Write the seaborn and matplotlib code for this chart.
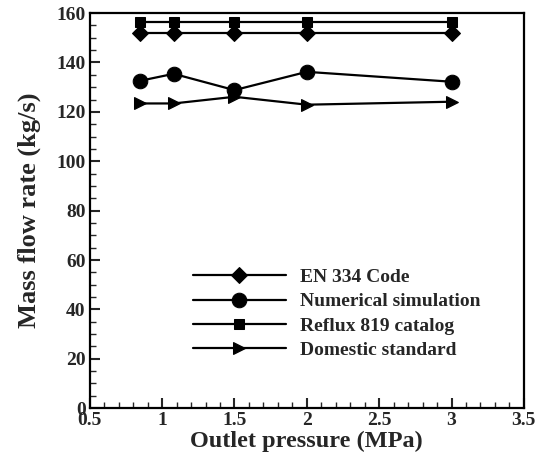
import numpy as np
import pandas as pd
import matplotlib
matplotlib.use('Agg')
import matplotlib.pyplot as plt
import seaborn as sns
from matplotlib.ticker import MultipleLocator, FormatStrFormatter

# 数据
pressure = [0.85, 1.08, 1.5, 2.0, 3.0]
en334 = [152, 152, 152, 152, 152]
numerical = [132.6, 135.4, 128.8, 136.2, 132.2]
reflux819 = [156.5, 156.5, 156.5, 156.5, 156.5]
domestic = [123.4, 123.4, 126.1, 122.9, 124.1]

series_names = ['EN 334 Code', 'Numerical simulation', 'Reflux 819 catalog', 'Domestic standard']
series_values = [en334, numerical, reflux819, domestic]

df = pd.DataFrame({
    'pressure': np.tile(pressure, len(series_names)),
    'flow': np.concatenate(series_values),
    'series': np.repeat(series_names, len(pressure)),
})

sns.set_style('ticks')
plt.rcParams['font.family'] = ['Liberation Serif', 'DejaVu Serif']
plt.rcParams['font.weight'] = 'bold'

fig = plt.figure(figsize=(5.44, 4.67), dpi=100)
ax = fig.add_axes([0.165, 0.126, 0.798, 0.846])

markers = {'EN 334 Code': 'D', 'Numerical simulation': 'o',
           'Reflux 819 catalog': 's', 'Domestic standard': '>'}
sizes = {'EN 334 Code': 8, 'Numerical simulation': 10.5,
         'Reflux 819 catalog': 7.5, 'Domestic standard': 9}

for name in series_names:
    sub = df[df['series'] == name]
    sns.lineplot(data=sub, x='pressure', y='flow', ax=ax, color='black',
                 marker=markers[name], markersize=sizes[name], linewidth=1.6,
                 markeredgecolor='black', label=name)

ax.set_xlim(0.5, 3.5)
ax.set_ylim(0, 160)
ax.xaxis.set_major_locator(MultipleLocator(0.5))
ax.xaxis.set_minor_locator(MultipleLocator(0.1))
ax.yaxis.set_major_locator(MultipleLocator(20))
ax.yaxis.set_minor_locator(MultipleLocator(5))
ax.xaxis.set_major_formatter(FormatStrFormatter('%g'))
ax.yaxis.set_major_formatter(FormatStrFormatter('%g'))

ax.tick_params(axis='both', which='major', direction='in', length=7, width=1.5,
               labelsize=14, top=False, right=False, pad=3)
ax.tick_params(axis='both', which='minor', direction='in', length=4, width=1,
               top=False, right=False)
for s in ax.spines.values():
    s.set_linewidth(1.6)
    s.set_color('black')

ax.set_xlabel('Outlet pressure (MPa)', fontsize=17.5, fontweight='bold', labelpad=1)
ax.set_ylabel('Mass flow rate (kg/s)', fontsize=19, fontweight='bold', labelpad=11)

leg = ax.legend(loc='lower left', bbox_to_anchor=(0.237, 0.125), frameon=False,
                fontsize=14, handlelength=4.8, handletextpad=0.7,
                labelspacing=0.34, borderaxespad=0, borderpad=0)
for t in leg.get_texts():
    t.set_fontweight('bold')

fig.savefig('out.png', dpi=100)
